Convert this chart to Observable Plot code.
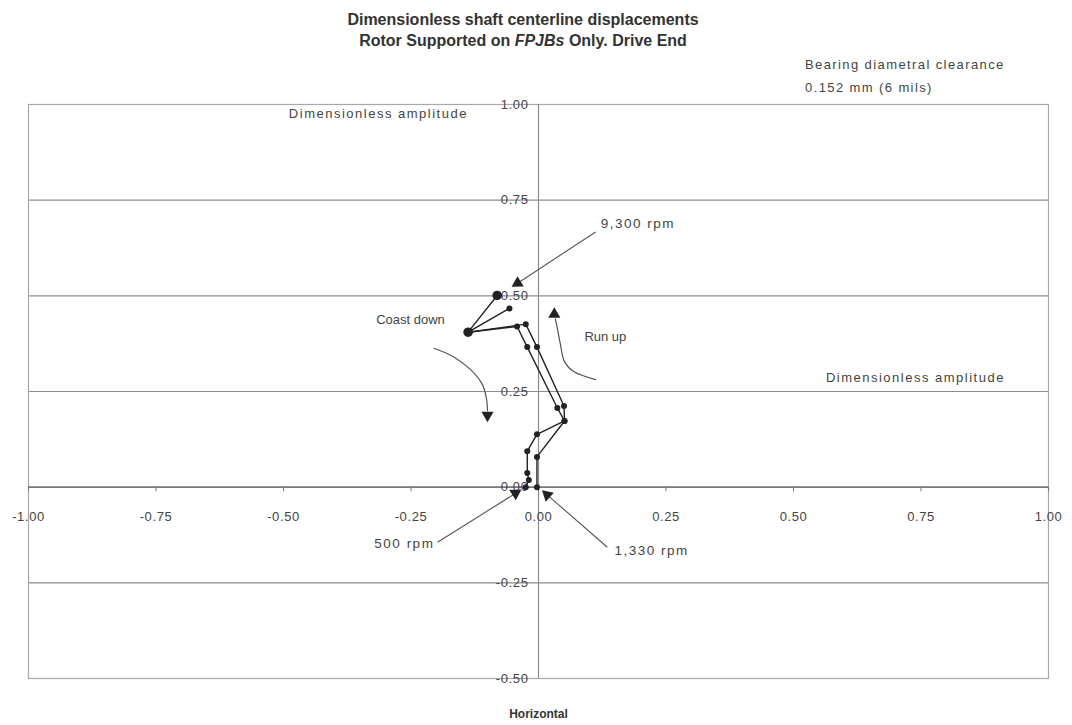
<!DOCTYPE html>
<html><head><meta charset="utf-8">
<script src="https://cdn.jsdelivr.net/npm/d3@7"></script>
<script src="https://cdn.jsdelivr.net/npm/@observablehq/plot@0.6"></script>
<style>
body{margin:0;background:#fff;font-family:"Liberation Sans",Arial,sans-serif;}
#wrap{position:relative;width:1072px;height:725px;}
#title{position:absolute;top:9px;left:0;width:1046px;text-align:center;font-weight:bold;font-size:16px;line-height:21px;color:#333;}
#note{position:absolute;left:805px;top:53px;font-size:13px;line-height:23px;letter-spacing:1.4px;color:#444;}
#chart{position:absolute;left:0;top:96px;}
</style></head><body>
<div id="wrap">
<div id="title">Dimensionless shaft centerline displacements<br>Rotor Supported on <i>FPJBs</i> Only. Drive End</div>
<div id="note">Bearing diametral clearance<br>0.152 mm (6 mils)</div>
<div id="chart"></div>
</div>
<script>
// Shaft centre orbit, dimensionless (displacement / clearance)
const runUpX = [-0.003, -0.003, 0.051, 0.050, -0.003, -0.025, -0.138, -0.057];
const runUpY = [0.000, 0.079, 0.173, 0.212, 0.366, 0.426, 0.405, 0.467];
const coastDownX = [-0.081, -0.138, -0.042, -0.022, 0.037, 0.051, -0.003, -0.022, -0.022, -0.019, -0.025];
const coastDownY = [0.501, 0.405, 0.420, 0.366, 0.207, 0.173, 0.138, 0.094, 0.037, 0.019, 0.000];
// Points drawn with a larger marker
const bigX = [-0.138, -0.081];
const bigY = [0.405, 0.501];

// Axis ticks
const xTicks = [-1, -0.75, -0.5, -0.25, 0, 0.25, 0.5, 0.75, 1];
const xTickLabels = ["-1.00", "-0.75", "-0.50", "-0.25", "0.00", "0.25", "0.50", "0.75", "1.00"];
const yTicks = [-0.5, -0.25, 0, 0.25, 0.5, 0.75, 1];
const yTickLabels = ["-0.50", "-0.25", "0.00", "0.25", "0.50", "0.75", "1.00"];

// Speed call-outs: label, label centre, leader start, arrow tip, head angle
const calloutText = ["9,300 rpm", "500 rpm", "1,330 rpm"];
const calloutX = [0.195, -0.263, 0.222];
const calloutY = [0.688, -0.147, -0.165];
const leaderX1 = [0.112, -0.198, 0.135];
const leaderY1 = [0.667, -0.144, -0.157];
const leaderX2 = [-0.041, -0.045, 0.017];
const leaderY2 = [0.533, -0.016, -0.020];
const headAngle = [239, 58, -48];

// Curved direction arrows beside the orbit
const coastArrowX = [-0.205, -0.167, -0.133, -0.110, -0.102, -0.100];
const coastArrowY = [0.363, 0.341, 0.307, 0.268, 0.231, 0.200];
const runArrowX = [0.112, 0.069, 0.051, 0.043, 0.037, 0.033];
const runArrowY = [0.281, 0.302, 0.328, 0.373, 0.415, 0.440];

const pts = (xs, ys) => xs.map((x, i) => ({x, y: ys[i]}));
const runUp = pts(runUpX, runUpY);
const coastDown = pts(coastDownX, coastDownY);
const bigPts = pts(bigX, bigY);
const coastArrow = pts(coastArrowX, coastArrowY);
const runArrow = pts(runArrowX, runArrowY);
const callouts = calloutText.map((t, i) => ({
  t, x: calloutX[i], y: calloutY[i],
  x1: leaderX1[i], y1: leaderY1[i], x2: leaderX2[i], y2: leaderY2[i], a: headAngle[i]
}));
const curvedHeads = [
  {x: coastArrowX[coastArrowX.length - 1], y: coastArrowY[coastArrowY.length - 1] - 0.012, a: 180},
  {x: runArrowX[runArrowX.length - 1] - 0.002, y: runArrowY[runArrowY.length - 1] + 0.012, a: 0}
];

const ink = "#222";
const font = "Liberation Sans, Arial, sans-serif";

const chart = Plot.plot({
  width: 1072,
  height: 629,
  marginLeft: 28,
  marginRight: 24,
  marginTop: 8,
  marginBottom: 47,
  x: {domain: [-1, 1], axis: null},
  y: {domain: [-0.5, 1], axis: null},
  style: {fontFamily: font, background: "#fff"},
  marks: [
    Plot.ruleY(yTicks, {stroke: "#8c8c8c", strokeWidth: 1.2}),
    Plot.frame({stroke: "#a8a8a8", strokeWidth: 1.2}),
    Plot.ruleX([0], {stroke: "#8c8c8c", strokeWidth: 1.2}),
    Plot.ruleY([0], {stroke: "#6a6a6a", strokeWidth: 1.4}),
    Plot.ruleX(xTicks, {x: d => d, y1: 0, y2: -0.012, stroke: "#777"}),
    Plot.text(xTickLabels, {x: xTicks, y: 0, text: d => d, dy: 30, fontSize: 13, fill: "#444"}),
    Plot.text(yTickLabels, {x: 0, y: yTicks, text: d => d, dx: -10, textAnchor: "end", fontSize: 13, fill: "#444"}),
    Plot.text(["Horizontal"], {x: 0, y: -0.5, text: d => d, dy: 36, fontSize: 12, fontWeight: "bold", fill: "#333"}),
    Plot.text(["Dimensionless amplitude"], {x: -0.314, y: 0.976, text: d => d, fontSize: 13, fill: "#444"}),
    Plot.text(["Dimensionless amplitude"], {x: 0.739, y: 0.286, text: d => d, fontSize: 13, fill: "#444"}),

    // call-outs
    Plot.link(callouts, {x1: "x1", y1: "y1", x2: "x2", y2: "y2", stroke: "#555", strokeWidth: 1.1}),
    Plot.dot(callouts, {x: "x2", y: "y2", symbol: "triangle", r: 4.5, fill: ink, stroke: "none", rotate: "a"}),
    Plot.text(callouts, {x: "x", y: "y", text: "t", fontSize: 13.5, fill: "#444"}),

    // direction arrows
    Plot.line(coastArrow, {x: "x", y: "y", curve: "catmull-rom", stroke: "#555", strokeWidth: 1.2}),
    Plot.line(runArrow, {x: "x", y: "y", curve: "catmull-rom", stroke: "#555", strokeWidth: 1.2}),
    Plot.dot(curvedHeads, {x: "x", y: "y", symbol: "triangle", r: 4.5, fill: ink, stroke: "none", rotate: "a"}),
    Plot.text(["Coast down"], {x: -0.251, y: 0.438, text: d => d, fontSize: 13, fill: "#444"}),
    Plot.text(["Run up"], {x: 0.09, y: 0.394, text: d => d, textAnchor: "start", fontSize: 13, fill: "#444"}),

    // orbit traces
    Plot.line(runUp, {x: "x", y: "y", stroke: ink, strokeWidth: 1.4}),
    Plot.line(coastDown, {x: "x", y: "y", stroke: ink, strokeWidth: 1.4}),
    Plot.dot(runUp, {x: "x", y: "y", r: 3, fill: ink, stroke: "none"}),
    Plot.dot(coastDown, {x: "x", y: "y", r: 3, fill: ink, stroke: "none"}),
    Plot.dot(bigPts, {x: "x", y: "y", r: 4.8, fill: ink, stroke: "none"})
  ]
});

// Wider tracking for the axis and call-out lettering
const tracking = new Map([
  ...xTickLabels.map(s => [s, "0.6px"]),
  ...yTickLabels.map(s => [s, "0.6px"]),
  ["Dimensionless amplitude", "1.5px"],
  ...calloutText.map(s => [s, "1.5px"])
]);
d3.select(chart).selectAll("text").each(function () {
  const ls = tracking.get(this.textContent);
  if (ls) this.style.letterSpacing = ls;
});
document.getElementById("chart").appendChild(chart);
</script>
</body></html>
